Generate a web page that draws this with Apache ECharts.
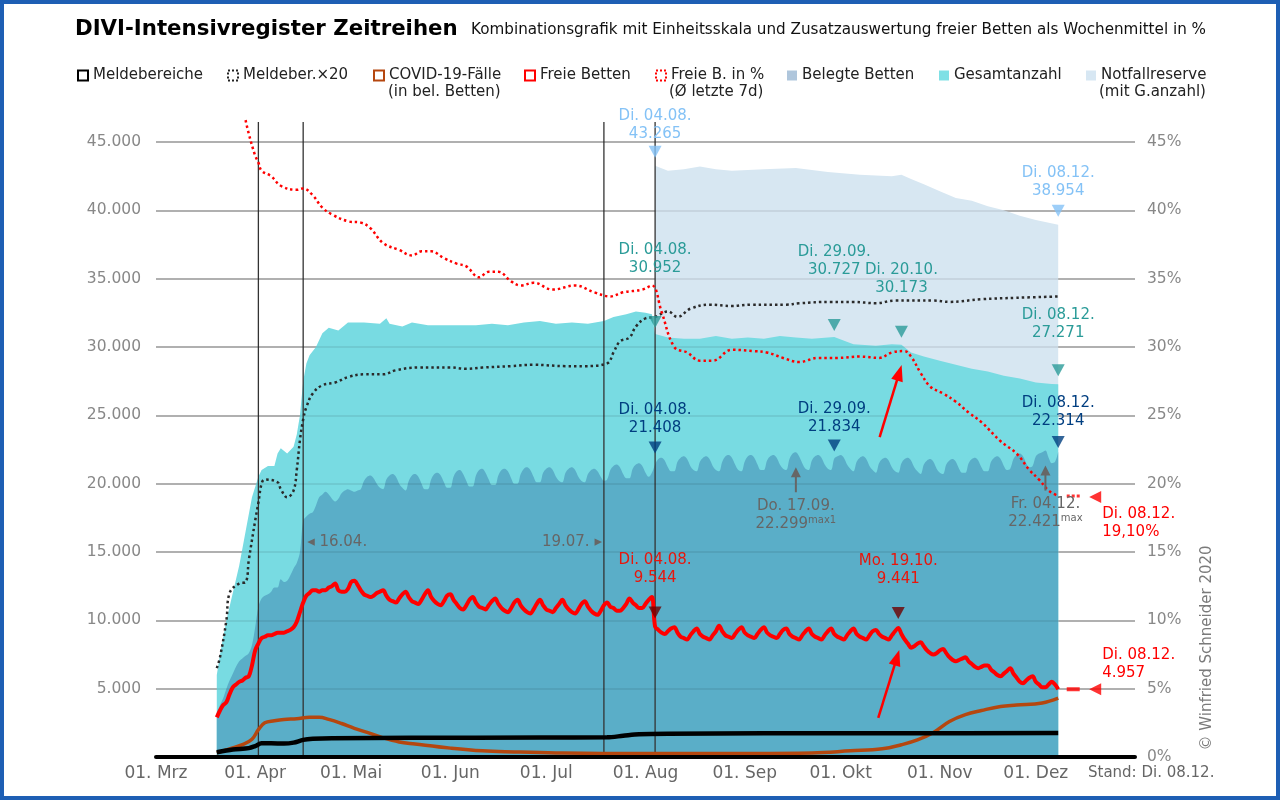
<!DOCTYPE html>
<html><head><meta charset="utf-8">
<script src="https://cdn.jsdelivr.net/npm/echarts@6/dist/echarts.min.js"></script>
<style>html,body{margin:0;padding:0;background:#fff}#c{width:1280px;height:800px}</style>
</head><body><div id="c"></div>
<script>
// ================= DATA =================
const monthTicks = ['03-01','04-01','05-01','06-01','07-01','08-01','09-01','10-01','11-01','12-01'];
const monthLabels = ['01. Mrz','01. Apr','01. Mai','01. Jun','01. Jul','01. Aug','01. Sep','01. Okt','01. Nov','01. Dez'];
const yTicks = [5000,10000,15000,20000,25000,30000,35000,40000,45000];

// daily series (in 1000 beds), starting at dailyStart
const dailyStart = '03-20';
const belegteK = [3.2,3.8,4.3,
5.0,5.6,6.1,6.6,7.0,7.2,7.4,
7.6,8.2,9.5,11.0,11.6,11.8,11.9,
12.1,12.4,12.4,13.0,12.8,12.9,13.3,
13.8,14.2,15.0,17.3,17.6,17.8,17.9,
18.4,19.0,19.2,19.4,19.2,18.9,18.7,
18.9,19.3,19.5,19.6,19.5,19.4,19.5,
19.6,20.2,20.5,20.6,20.4,20.0,19.7,
19.6,20.3,20.6,20.7,20.5,20.0,19.7,
19.5,20.2,20.6,20.7,20.5,20.0,19.6,
19.6,20.3,20.7,20.8,20.6,20.1,19.7,
19.7,20.5,20.9,21.0,20.7,20.2,19.8,
19.8,20.6,21.0,21.1,20.8,20.3,19.9,
19.9,20.6,21.0,21.1,20.9,20.4,20.0,
20.0,20.7,21.1,21.2,21.0,20.5,20.1,
20.1,20.8,21.1,21.2,21.0,20.5,20.2,
20.1,20.8,21.1,21.2,21.0,20.5,20.2,
20.1,20.7,21.0,21.1,20.9,20.5,20.2,
20.3,21.0,21.3,21.4,21.2,20.7,20.4,
20.4,21.1,21.4,21.5,21.3,20.8,20.5,
20.8,21.408,21.8,21.9,21.7,21.2,20.9,
20.9,21.6,21.9,22.0,21.8,21.3,21.0,
20.9,21.6,21.9,22.0,21.8,21.3,21.0,
20.9,21.6,22.0,22.1,21.9,21.4,21.0,
20.9,21.6,22.0,22.1,21.9,21.4,21.0,
21.0,21.7,22.0,22.1,21.9,21.4,21.1,
21.0,21.8,22.2,22.299,22.0,21.5,21.1,
21.0,21.7,22.0,22.1,21.9,21.4,21.1,
21.0,21.834,22.0,22.1,21.9,21.4,21.1,
20.9,21.6,21.9,22.0,21.8,21.3,21.0,
20.8,21.5,21.8,21.9,21.7,21.2,20.9,
20.8,21.5,21.8,21.9,21.7,21.2,20.9,
20.7,21.4,21.7,21.8,21.6,21.1,20.8,
20.7,21.4,21.7,21.8,21.6,21.1,20.8,
20.8,21.5,21.8,21.9,21.7,21.2,20.9,
20.9,21.6,21.9,22.0,21.8,21.3,21.0,
21.1,21.8,22.1,22.2,22.0,21.5,21.2,
21.3,22.0,22.2,22.3,22.421,21.9,21.5,
21.6,22.314];

const freieK = [2.9,3.4,3.8,
4.0,4.6,5.1,5.3,5.5,5.6,5.8,
5.9,6.7,7.8,8.3,8.7,8.8,8.9,
8.9,9.0,9.1,9.1,9.1,9.2,9.3,
9.5,9.9,10.6,11.3,11.8,12.0,12.2,
12.2,12.1,12.2,12.2,12.4,12.5,12.7,
12.2,12.1,12.1,12.3,12.8,12.9,12.6,
12.2,11.9,11.8,11.7,11.8,12.0,12.1,
12.2,11.8,11.5,11.4,11.3,11.6,11.9,
12.1,11.7,11.4,11.3,11.2,11.5,11.9,
12.2,11.7,11.4,11.2,11.1,11.4,11.8,
11.9,11.5,11.2,10.9,10.8,11.1,11.5,
11.7,11.3,11.0,10.9,10.8,11.1,11.4,
11.6,11.2,10.9,10.7,10.6,10.9,11.3,
11.5,11.1,10.8,10.6,10.5,10.8,11.2,
11.5,11.1,10.8,10.7,10.6,10.9,11.2,
11.5,11.1,10.8,10.6,10.5,10.8,11.2,
11.4,11.0,10.7,10.5,10.4,10.7,11.1,
11.3,11.0,10.9,10.7,10.7,10.9,11.2,
11.6,11.3,11.1,10.9,10.9,11.2,11.5,
11.7,9.544,9.3,9.1,9.0,9.2,9.4,
9.5,9.1,8.8,8.7,8.6,8.9,9.2,
9.4,9.0,8.8,8.7,8.6,8.9,9.2,
9.6,9.2,8.9,8.8,8.7,9.0,9.3,
9.5,9.1,8.9,8.8,8.7,9.0,9.3,
9.5,9.1,8.9,8.8,8.7,9.0,9.3,
9.4,9.0,8.8,8.7,8.6,8.9,9.2,
9.4,9.0,8.8,8.7,8.6,8.9,9.2,
9.4,9.0,8.8,8.7,8.6,8.9,9.2,
9.4,9.0,8.8,8.7,8.6,8.9,9.2,
9.3,9.0,8.8,8.7,8.6,8.9,9.2,
9.441,9.0,8.6,8.3,8.0,8.1,8.3,
8.4,8.1,7.8,7.6,7.5,7.6,7.8,
7.9,7.6,7.3,7.1,7.0,7.1,7.2,
7.3,7.0,6.8,6.6,6.5,6.6,6.7,
6.7,6.4,6.2,6.0,5.9,6.1,6.3,
6.5,6.1,5.8,5.5,5.4,5.6,5.8,
5.9,5.5,5.3,5.1,5.1,5.3,5.5,
5.3,4.957];

// sparse series [date (MM-DD, 2020), value in 1000]
const gesamtK = [['03-20',6.0],['03-21',7.5],['03-23',10.0],['03-25',12.0],['03-27',14.0],['03-29',16.5],['03-31',19.0],['04-02',20.5],['04-03',21.0],['04-05',21.3],['04-07',21.3],['04-08',22.2],['04-09',22.6],['04-11',22.2],['04-13',22.7],['04-14',23.6],['04-15',25.0],['04-16',27.5],['04-17',28.8],['04-18',29.4],['04-20',30.0],['04-22',31.0],['04-24',31.4],['04-27',31.2],['04-30',31.8],['05-05',31.8],['05-10',31.7],['05-12',32.1],['05-13',31.7],['05-17',31.5],['05-20',31.8],['05-25',31.6],['05-30',31.6],['06-04',31.6],['06-09',31.6],['06-14',31.7],['06-19',31.6],['06-24',31.8],['06-29',31.9],['07-04',31.7],['07-09',31.8],['07-14',31.7],['07-19',31.9],['07-22',32.2],['07-26',32.4],['07-29',32.6],['08-01',32.5],['08-03',32.4],['08-04',30.952],['08-08',30.7],['08-13',30.6],['08-18',30.6],['08-23',30.8],['08-28',30.6],['09-02',30.7],['09-07',30.6],['09-12',30.8],['09-17',30.7],['09-22',30.6],['09-29',30.727],['10-05',30.2],['10-12',30.1],['10-17',30.2],['10-20',30.173],['10-23',29.6],['10-27',29.3],['11-01',29.0],['11-06',28.7],['11-11',28.4],['11-16',28.2],['11-21',27.9],['11-26',27.7],['12-01',27.4],['12-06',27.3],['12-08',27.271]];
const notfallK = [['08-04',43.265],['08-08',42.9],['08-13',43.0],['08-18',43.2],['08-23',43.0],['08-28',42.9],['09-07',43.0],['09-17',43.1],['09-27',42.8],['10-07',42.6],['10-17',42.5],['10-20',42.6],['10-23',42.3],['10-27',41.9],['11-01',41.4],['11-06',40.9],['11-11',40.7],['11-16',40.3],['11-21',40.0],['11-26',39.6],['12-01',39.3],['12-08',38.954]];
const melde20K = [['03-20',6.5],['03-21',7.3],['03-23',10.0],['03-24',12.0],['03-27',12.7],['03-29',12.8],['03-30',14.4],['04-01',17.3],['04-02',18.6],['04-03',20.0],['04-04',20.3],['04-08',20.1],['04-09',19.6],['04-11',19.0],['04-13',19.5],['04-14',21.0],['04-15',23.2],['04-16',24.7],['04-17',25.6],['04-19',26.6],['04-22',27.2],['04-26',27.4],['04-30',27.8],['05-05',28.0],['05-11',28.0],['05-15',28.3],['05-22',28.5],['06-01',28.5],['06-06',28.4],['06-11',28.5],['06-20',28.6],['06-27',28.7],['07-07',28.6],['07-13',28.6],['07-20',28.8],['07-22',29.6],['07-24',30.4],['07-27',30.7],['07-29',31.5],['08-01',32.1],['08-04',32.2],['08-08',32.6],['08-11',32.2],['08-15',32.8],['08-21',33.1],['08-28',33.0],['09-03',33.1],['09-14',33.1],['09-18',33.2],['09-28',33.3],['10-05',33.3],['10-12',33.2],['10-18',33.4],['10-30',33.4],['11-04',33.3],['11-14',33.5],['11-25',33.6],['12-08',33.7]];
const meldeK = [['03-20',0.35],['03-25',0.55],['03-30',0.65],['04-01',0.8],['04-03',1.0],['04-06',1.0],['04-10',0.98],['04-13',1.05],['04-16',1.25],['04-19',1.33],['04-25',1.38],['05-20',1.40],['06-29',1.42],['07-20',1.44],['07-25',1.55],['07-30',1.66],['08-08',1.70],['09-07',1.73],['10-17',1.74],['12-08',1.75]];
const covidK = [['03-20',0.3],['03-24',0.6],['03-28',0.9],['03-31',1.3],['04-02',2.0],['04-04',2.5],['04-07',2.65],['04-10',2.75],['04-14',2.8],['04-18',2.9],['04-21',2.9],['04-24',2.75],['04-28',2.45],['05-02',2.1],['05-06',1.8],['05-11',1.4],['05-16',1.1],['05-21',0.95],['06-01',0.65],['06-11',0.45],['06-21',0.37],['07-04',0.3],['07-29',0.25],['08-28',0.26],['09-22',0.3],['10-04',0.45],['10-14',0.6],['10-20',0.9],['10-25',1.25],['10-30',1.8],['11-04',2.6],['11-09',3.1],['11-14',3.4],['11-20',3.7],['11-25',3.8],['12-03',3.95],['12-08',4.3]];
// percent (right axis)
const freiePct = [['03-29',46.6],['03-30',45.6],['04-01',44.0],['04-02',43.5],['04-03',42.9],['04-06',42.5],['04-09',41.8],['04-14',41.5],['04-16',41.6],['04-19',41.1],['04-22',40.2],['04-25',39.7],['04-30',39.2],['05-04',39.1],['05-07',38.7],['05-11',37.6],['05-16',37.1],['05-20',36.7],['05-23',37.0],['05-26',37.0],['05-30',36.5],['06-03',36.1],['06-06',35.9],['06-10',35.1],['06-13',35.5],['06-16',35.5],['06-20',34.8],['06-23',34.5],['06-27',34.7],['07-03',34.2],['07-10',34.5],['07-16',34.0],['07-21',33.7],['07-25',34.0],['07-31',34.2],['08-03',34.5],['08-06',32.6],['08-10',30.0],['08-14',29.6],['08-18',29.0],['08-22',29.0],['08-28',29.8],['09-04',29.7],['09-08',29.6],['09-13',29.2],['09-18',28.9],['09-24',29.2],['09-30',29.2],['10-07',29.3],['10-13',29.2],['10-17',29.6],['10-21',29.7],['10-23',29.3],['10-26',28.1],['10-29',27.1],['11-02',26.6],['11-06',26.0],['11-10',25.2],['11-14',24.5],['11-20',23.1],['11-25',22.2],['11-29',21.0],['12-02',20.3],['12-05',19.5],['12-08',19.1]];

// reference lines & annotated dates
const refLines = ['04-02','04-16','07-19','08-04'];
const refLineLabeled = ['04-16','07-19'];
const markDates = {
  notfall: ['08-04','12-08'],
  gesamt: ['08-04','09-29','10-20','12-08'],
  belegte: ['08-04','09-29','12-08'],
  freie: ['08-04','10-19']
};
const maxMarks = [['09-17','max1'],['12-04','max']];
const standDate = '12-08';

// ================= HELPERS =================
const FONT = 'DejaVu Sans';
const DAY0 = Date.UTC(2020,2,1);
function dayOf(md, year){ const p = md.split('-').map(Number); return (Date.UTC(year||2020, p[0]-1, p[1]) - DAY0)/864e5; }
const X_MAX = dayOf('01-01', 2021);
const Y_MAX = 45000;
function fmtK(v){ return Math.round(v).toString().replace(/\B(?=(\d{3})+(?!\d))/g,'.'); }
function dm(md){ const p = md.split('-'); return p[1]+'.'+p[0]+'.'; }
function wd(md){ const p = md.split('-').map(Number); return ['So.','Mo.','Di.','Mi.','Do.','Fr.','Sa.'][new Date(Date.UTC(2020,p[0]-1,p[1])).getUTCDay()]; }
const dStart = dayOf(dailyStart);
const daily = arr => arr.map((v,i)=>[dStart+i, v*1000]);
const sparse = (arr, f) => arr.map(([d,v])=>[dayOf(d), v*f]);

const belegteData = daily(belegteK);
const freieData = daily(freieK);
const gesamtData = sparse(gesamtK,1000);
const notfallData = sparse(notfallK,1000);
const melde20Data = sparse(melde20K,1000);
const meldeData = sparse(meldeK,1000);
const covidData = sparse(covidK,1000);
const pctData = sparse(freiePct,1);
const valAt = (data, day) => { const f = data.find(p => p[0] === day); return f ? f[1] : null; };
const labelByDay = {}; monthTicks.forEach((m,i)=>{ labelByDay[dayOf(m)] = monthLabels[i]; });

// ================= STYLE =================
const C = {
  notfall:'#d7e7f2', gesamt:'#78dbe2', belegte:'#5aaec8',
  light:'#84c2f6', teal:'#2a9b98', dark:'#003e80', redTxt:'#e8160c', redTri:'#6e0000', gray:'#666'
};
const markLayout = {
  notfall: [{tri:-14,txt:-41},{tri:-14,txt:-43}],
  gesamt: [{tri:-12,txt:-75},{tri:-12,txt:-76},{tri:-13,txt:-66},{tri:-14,txt:-60}],
  belegte: [{tri:-17,txt:-45},{tri:-13,txt:-40},{tri:-10,txt:-40}],
  freie: [{tri:-14,txt:-57},{tri:-15,txt:-58}]
};
const markColor = {notfall:[C.light,C.light], gesamt:[C.teal,C.teal], belegte:[C.dark,C.dark], freie:[C.redTri,C.redTxt]};
const markSrc = {notfall:notfallData, gesamt:gesamtData, belegte:belegteData, freie:freieData};
const TRI_DOWN = 'path://M0,0L12,0L6,11Z';
const TRI_LEFT = 'path://M11,0L11,11L0,5.5Z';

const legendItems = [
  {name:'Meldebereiche', left:77, st:{color:'#fff', borderColor:'#000', borderWidth:2}},
  {name:'Meldeber.×20', left:227, st:{color:'#fff', borderColor:'#222', borderWidth:2, borderType:'dotted'}},
  {name:'COVID-19-Fälle', left:373, st:{color:'#fff', borderColor:'#b5470f', borderWidth:2}},
  {name:'Freie Betten', left:524, st:{color:'#fff', borderColor:'#ff0000', borderWidth:2}},
  {name:'Freie B. in %', left:655, st:{color:'#fff', borderColor:'#ff0000', borderWidth:2, borderType:'dotted'}},
  {name:'Belegte Betten', left:787, st:{color:'#afc6dc', borderWidth:0}},
  {name:'Gesamtanzahl', left:939, st:{color:'#7fe0e5', borderWidth:0}},
  {name:'Notfallreserve', left:1086, st:{color:'#d7e7f3', borderWidth:0}}
];
const legendSub = [['(in bel. Betten)',388],['(Ø letzte 7d)',669],['(mit G.anzahl)',1099]];

const markSeries = Object.keys(markDates).map(k => ({
  type:'scatter', name:'mk-'+k, z:10, silent:true, animation:false,
  symbol:TRI_DOWN, symbolSize:[13,12], itemStyle:{color:markColor[k][0]},
  data: markDates[k].map((d,i)=>({value:[dayOf(d), valAt(markSrc[k], dayOf(d))], symbolOffset:[0, markLayout[k][i].tri]}))
}));
const lastF = freieData[freieData.length-1], lastP = pctData[pctData.length-1];

const option = {
  animation:false,
  textStyle:{fontFamily:FONT},
  title:[
    {text:'DIVI-Intensivregister Zeitreihen', left:75, top:19, padding:0, textStyle:{fontFamily:FONT, fontSize:21.3, fontWeight:'bold', color:'#000'}},
    {text:'Kombinationsgrafik mit Einheitsskala und Zusatzauswertung freier Betten als Wochenmittel in %', left:471, top:23, padding:0, textStyle:{fontFamily:FONT, fontSize:15.2, fontWeight:'normal', color:'#111'}}
  ],
  legend: legendItems.map(it => ({left:it.left, top:68, padding:0, itemWidth:10, itemHeight:10, selectedMode:false,
    textStyle:{fontFamily:FONT, fontSize:15, color:'#222'},
    data:[{name:it.name, icon:'rect', itemStyle:it.st}]})),
  grid:{left:156, right:145, top:142, bottom:43, containLabel:false, outerBoundsMode:'none'},
  xAxis:{type:'value', min:0, max:X_MAX, z:10,
    axisLine:{show:true, onZero:false, lineStyle:{color:'#000', width:4, cap:'round'}},
    axisTick:{show:false}, splitLine:{show:false},
    axisLabel:{customValues: monthTicks.map(m=>dayOf(m)), formatter: v => labelByDay[v] || '', color:'#666', fontSize:17, fontFamily:FONT, margin:8}},
  yAxis:[
    {type:'value', min:0, max:Y_MAX, interval:5000, axisLine:{show:false}, axisTick:{show:false},
      splitLine:{show:true, lineStyle:{color:'#a9a9a9', width:1.5}},
      axisLabel:{showMinLabel:false, formatter: v => fmtK(v), color:'#888', fontSize:15.5, fontFamily:FONT, margin:15}},
    {type:'value', position:'right', min:0, max:45, interval:5, axisLine:{show:false}, axisTick:{show:false}, splitLine:{show:false},
      axisLabel:{formatter:'{value}%', color:'#888', fontSize:15.5, fontFamily:FONT, margin:12}}
  ],
  series:[
    {type:'line', name:'Notfallreserve', z:1, data:notfallData, showSymbol:false, symbol:'none', lineStyle:{width:0}, areaStyle:{color:C.notfall, opacity:1}, itemStyle:{color:C.notfall}, silent:true},
    {type:'line', name:'Gesamtanzahl', z:2, data:gesamtData, showSymbol:false, symbol:'none', lineStyle:{width:0}, areaStyle:{color:C.gesamt, opacity:1}, itemStyle:{color:C.gesamt}, silent:true},
    {type:'line', name:'Belegte Betten', z:3, data:belegteData, smooth:0.35, showSymbol:false, symbol:'none', lineStyle:{width:0}, areaStyle:{color:C.belegte, opacity:1}, itemStyle:{color:C.belegte}, silent:true},
    {type:'custom', name:'refLines', z:4, silent:true, clip:false, data: refLines.map(d=>[dayOf(d),0]),
      renderItem:(params, api) => { const b = api.coord([api.value(0),0]); const t = api.coord([api.value(0),Y_MAX]);
        return {type:'line', shape:{x1:b[0], y1:b[1], x2:b[0], y2:t[1]-20}, style:{stroke:'#333', lineWidth:1.3}}; }},
    {type:'line', name:'COVID-19-Fälle', z:5, data:covidData, smooth:0.4, showSymbol:false, symbol:'none', lineStyle:{color:'#b5470f', width:3.5}, itemStyle:{color:'#b5470f'}, silent:true},
    {type:'line', name:'Meldebereiche', z:6, data:meldeData, smooth:0.3, showSymbol:false, symbol:'none', lineStyle:{color:'#000', width:4.5}, itemStyle:{color:'#000'}, silent:true,
      markLine:{silent:true, symbol:['none','none'], label:{show:false}, animation:false, lineStyle:{color:'rgba(0,0,0,0.1)', width:1.5, type:'solid'}, data: yTicks.map(v=>({yAxis:v}))}},
    {type:'line', name:'Meldeber.×20', z:6, data:melde20Data, smooth:0.4, showSymbol:false, symbol:'none', lineStyle:{color:'#2a2a2a', width:2.5, type:[2.5,3]}, itemStyle:{color:'#2a2a2a'}, silent:true},
    {type:'line', name:'Freie Betten', z:7, data:freieData, smooth:0.35, showSymbol:false, symbol:'none', lineStyle:{color:'#ff0000', width:4}, itemStyle:{color:'#ff0000'}, silent:true},
    {type:'line', name:'Freie B. in %', z:7, yAxisIndex:1, clip:false, data:pctData, smooth:0.4, showSymbol:false, symbol:'none', lineStyle:{color:'#ff0000', width:2.5, type:[2.5,3]}, itemStyle:{color:'#ff0000'}, silent:true},
    ...markSeries,
    {type:'scatter', name:'end-freie', z:10, silent:true, itemStyle:{color:'#ff0000'},
      data:[{value:lastF, symbol:TRI_LEFT, symbolSize:[12,12], symbolOffset:[37,0]}, {value:lastF, symbol:'rect', symbolSize:[13,4], symbolOffset:[15,0]}]},
    {type:'scatter', name:'end-pct', z:10, silent:true, yAxisIndex:1, itemStyle:{color:'#ff0000'},
      data:[{value:lastP, symbol:TRI_LEFT, symbolSize:[12,12], symbolOffset:[37,1]}, {value:lastP, symbol:'path://M0,0h3v3h-3z M5,0h3v3h-3z M10,0h3v3h-3z', symbolSize:[13,3], symbolOffset:[15,0]}]}
  ]
};

const chart = echarts.init(document.getElementById('c'), null, {renderer:'canvas', width:1280, height:800});
chart.setOption(option);

// ================= ANNOTATIONS (graphic, anchored to data) =================
const P = (day, val, yi) => chart.convertToPixel({xAxisIndex:0, yAxisIndex:yi||0}, [day, val]);
const G = [];
const txt = (x, y, text, fill, extra) => G.push(Object.assign({type:'text', x, y, z:100, silent:true,
  style:Object.assign({text, fill, fontSize:15, fontFamily:FONT, align:'center', verticalAlign:'middle', lineHeight:18}, extra||{})}));
function arrow(tail, tip, color, w, headL, headW){
  const dx = tip[0]-tail[0], dy = tip[1]-tail[1], L = Math.hypot(dx,dy), ux = dx/L, uy = dy/L;
  const bx = tip[0]-ux*headL, by = tip[1]-uy*headL;
  G.push({type:'line', z:100, silent:true, shape:{x1:tail[0], y1:tail[1], x2:bx+ux*2, y2:by+uy*2}, style:{stroke:color, lineWidth:w}});
  G.push({type:'polygon', z:100, silent:true, shape:{points:[tip,[bx-uy*headW, by+ux*headW],[bx+uy*headW, by-ux*headW]]}, style:{fill:color}});
}
Object.keys(markDates).forEach(k => {
  markDates[k].forEach((d,i) => {
    const day = dayOf(d), v = valAt(markSrc[k], day), p = P(day, v);
    txt(p[0], p[1]+markLayout[k][i].txt, wd(d)+' '+dm(d)+'\n'+fmtK(v), markColor[k][1]);
  });
});
maxMarks.forEach(([d,sup]) => {
  const day = dayOf(d), v = valAt(belegteData, day), p = P(day, v);
  arrow([p[0], p[1]+40], [p[0], p[1]+15], '#666', 2, 10, 5);
  G.push({type:'text', x:p[0], y:p[1]+63, z:100, silent:true, style:{
    text:'{a|'+wd(d)+' '+dm(d)+'}\n{a|'+fmtK(v)+'}{s|'+sup+'}', align:'center', verticalAlign:'middle', fill:'#666',
    rich:{a:{fontSize:15, fontFamily:FONT, lineHeight:18, fill:'#666'}, s:{fontSize:10, fontFamily:FONT, lineHeight:11, verticalAlign:'top', fill:'#666'}}}});
});
// end values
{ const pf = P(lastF[0], lastF[1]); txt(pf[0]+44, pf[1]-25, wd(standDate)+' '+dm(standDate)+'\n'+fmtK(lastF[1]), '#ff0000', {align:'left'});
  const pp = P(lastP[0], lastP[1], 1); txt(pp[0]+44, pp[1]+27, wd(standDate)+' '+dm(standDate)+'\n'+lastP[1].toFixed(2).replace('.',',')+'%', '#ff0000', {align:'left'}); }
// red arrows
{ const a1 = P(dayOf('10-21'), valAt(pctData, dayOf('10-21')), 1); arrow([a1[0]-25, a1[1]+86], [a1[0]-3, a1[1]+14], '#ff0000', 2.5, 16, 6);
  const a2 = P(dayOf('10-19'), valAt(freieData, dayOf('10-19'))); arrow([a2[0]-20, a2[1]+90], [a2[0]+1, a2[1]+22], '#ff0000', 2.5, 16, 6); }
// reference line labels
refLineLabeled.forEach(d => {
  const p = P(dayOf(d), 0);
  if (d === refLineLabeled[0]) txt(p[0]+4, p[1]-215, '◂ '+dm(d), '#666', {align:'left'});
  else txt(p[0]-2, p[1]-215, dm(d)+' ▸', '#666', {align:'right'});
});
// legend second lines
legendSub.forEach(([t,x]) => txt(x, 92, t, '#222', {align:'left'}));
// stand + copyright
txt(1088, 773, 'Stand: '+wd(standDate)+' '+dm(standDate), '#666', {align:'left'});
G.push({type:'text', x:1207, y:648, rotation:Math.PI/2, z:100, silent:true, style:{text:'© Winfried Schneider 2020', fill:'#7a7a7a', fontSize:15, fontFamily:FONT, align:'center', verticalAlign:'middle'}});
// frame
G.push({type:'rect', z:120, silent:true, shape:{x:2, y:2, width:1276, height:796}, style:{fill:'none', stroke:'#1e5fb4', lineWidth:4}});
chart.setOption({graphic:G});
</script>
</body></html>
